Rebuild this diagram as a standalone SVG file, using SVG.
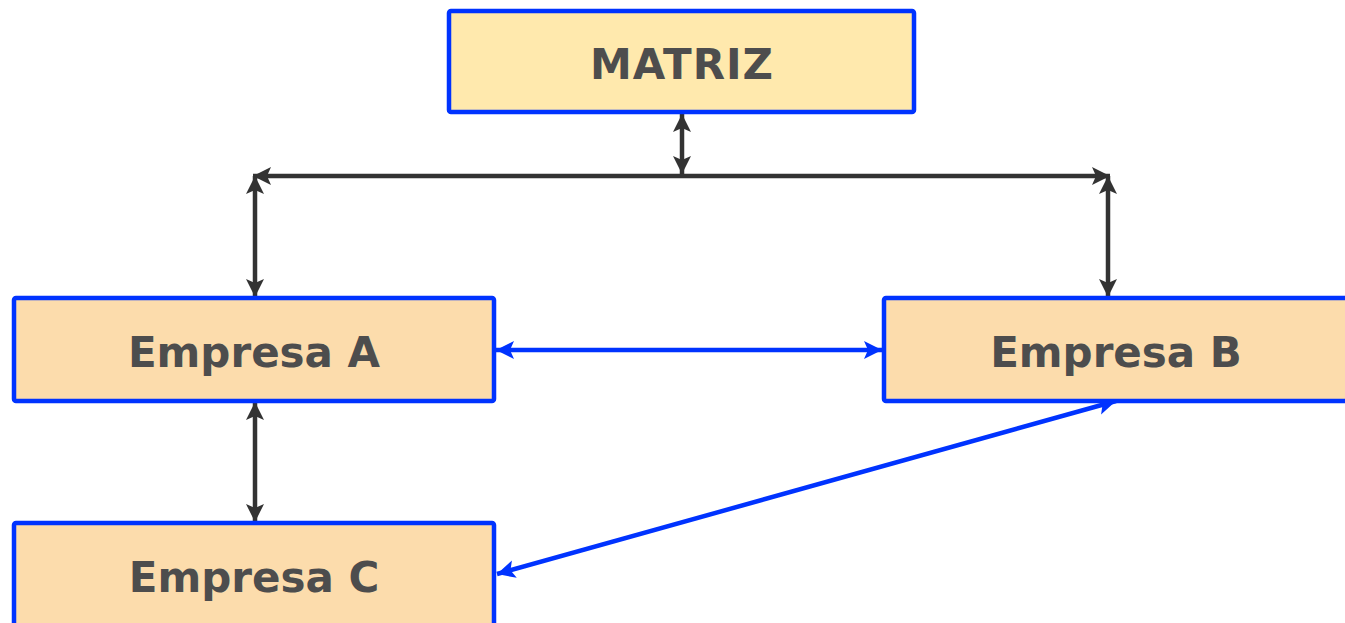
<svg xmlns="http://www.w3.org/2000/svg" width="1345" height="623" viewBox="0 0 1345 623">
  <style>
    .box { stroke: #0033ff; stroke-width: 4.5; }
    .label { font-family: "DejaVu Sans", Verdana, sans-serif; font-weight: bold; font-size: 42px; fill: #4d4d4d; text-anchor: middle; }
    .dark { stroke: #333333; stroke-width: 4.5; fill: none; }
    .blue { stroke: #0033ff; stroke-width: 4.5; fill: none; }
  </style>
  <defs>
    <marker id="arrowDark" markerUnits="userSpaceOnUse" markerWidth="20" markerHeight="20" refX="18" refY="10" orient="auto-start-reverse">
      <path d="M0,1 L18,10 L0,19 L4,10 Z" fill="#333333"/>
    </marker>
    <marker id="arrowBlue" markerUnits="userSpaceOnUse" markerWidth="20" markerHeight="20" refX="18" refY="10" orient="auto-start-reverse">
      <path d="M0,1 L18,10 L0,19 L4,10 Z" fill="#0033ff"/>
    </marker>
  </defs>

  <g id="connectors">
    <line class="dark" x1="682" y1="114" x2="682" y2="174" marker-start="url(#arrowDark)" marker-end="url(#arrowDark)"/>
    <line class="dark" x1="253" y1="176" x2="1110" y2="176" marker-start="url(#arrowDark)" marker-end="url(#arrowDark)"/>
    <line class="dark" x1="255" y1="176" x2="255" y2="297" marker-start="url(#arrowDark)" marker-end="url(#arrowDark)"/>
    <line class="dark" x1="1108" y1="176" x2="1108" y2="297" marker-start="url(#arrowDark)" marker-end="url(#arrowDark)"/>
    <line class="dark" x1="255" y1="402" x2="255" y2="522" marker-start="url(#arrowDark)" marker-end="url(#arrowDark)"/>
    <line class="blue" x1="496" y1="350" x2="882" y2="350" marker-start="url(#arrowBlue)" marker-end="url(#arrowBlue)"/>
    <line class="blue" x1="497" y1="574" x2="1116" y2="401" marker-start="url(#arrowBlue)" marker-end="url(#arrowBlue)"/>
  </g>

  <g id="matriz">
    <rect class="box" x="449" y="11" width="465" height="101" rx="2" fill="#ffe9ad"/>
    <text class="label" x="682" y="79" letter-spacing="1">MATRIZ</text>
  </g>
  <g id="empresa-a">
    <rect class="box" x="14" y="298" width="480" height="103" rx="2" fill="#fcdcac"/>
    <text class="label" x="254" y="367">Empresa A</text>
  </g>
  <g id="empresa-b">
    <rect class="box" x="884" y="298" width="470" height="103" rx="2" fill="#fcdcac"/>
    <text class="label" x="1116" y="367">Empresa B</text>
  </g>
  <g id="empresa-c">
    <rect class="box" x="14" y="523" width="480" height="110" rx="2" fill="#fcdcac"/>
    <text class="label" x="254" y="592">Empresa C</text>
  </g>
</svg>
